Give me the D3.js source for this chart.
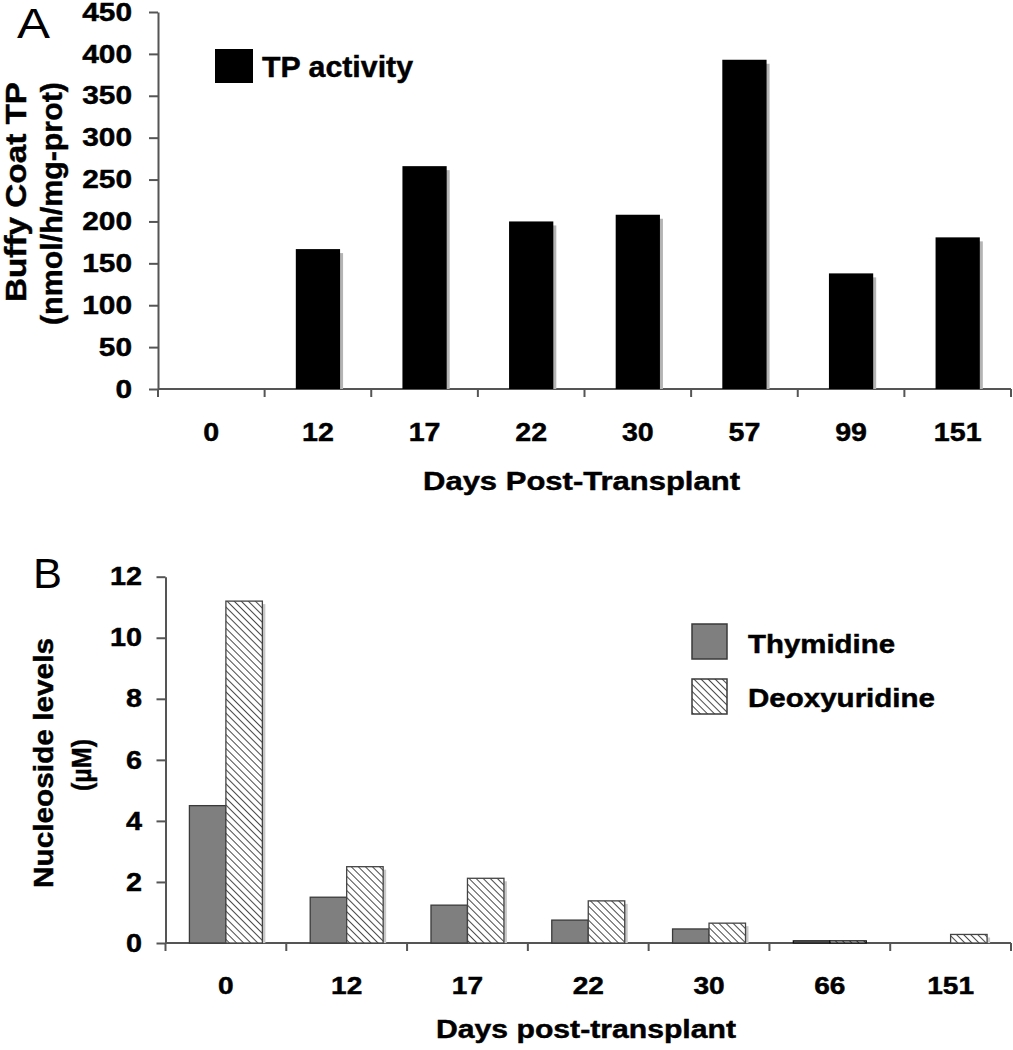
<!DOCTYPE html>
<html><head><meta charset="utf-8">
<script src="https://cdn.jsdelivr.net/npm/d3@7"></script>
<style>body{margin:0;background:#fff}svg{display:block}text{font-family:"Liberation Sans",Arial,sans-serif;font-weight:bold;fill:#000;stroke:#000;stroke-width:0.45px}</style>
</head><body>
<svg id="c" width="1013" height="1050"></svg>
<script>
// ---- data ----
const daysA = ["0","12","17","22","30","57","99","151"];
const tpActivity = [0,167,266,200,208,393,138,181];
const ticksA = [0,50,100,150,200,250,300,350,400,450];

const daysB = ["0","12","17","22","30","66","151"];
const seriesB = ["Thymidine","Deoxyuridine"];
const thymidine = [4.5,1.5,1.24,0.75,0.46,0.07,0];
const deoxyuridine = [11.2,2.5,2.12,1.38,0.65,0.07,0.28];
const ticksB = [0,2,4,6,8,10,12];

const svg = d3.select("#c");
const AX = "#555";

const defs = svg.append("defs");
const pat = defs.append("pattern").attr("id","hatch").attr("patternUnits","userSpaceOnUse")
  .attr("width",5).attr("height",5).attr("patternTransform","rotate(-45)");
pat.append("rect").attr("width",5).attr("height",5).attr("fill","#fff");
pat.append("line").attr("x1",0).attr("y1",0).attr("x2",0).attr("y2",5).attr("stroke","#2a2a2a").attr("stroke-width",1.7);

function styleAxis(g){
  g.select(".domain").attr("stroke",AX).attr("stroke-width",2);
  g.selectAll(".tick line").attr("stroke",AX).attr("stroke-width",2);
}
function fitText(sel,len){ sel.attr("textLength",len).attr("lengthAdjust","spacingAndGlyphs"); }

// ================= Panel A =================
const xA = d3.scaleBand().domain(daysA).range([158,1011]).paddingInner(0.585).paddingOuter(0.2925);
const yA = d3.scaleLinear().domain([0,450]).range([389,12]);

const SYA = 1.17;
const gyA = svg.append("g").attr("transform","translate(158,0)")
  .call(d3.axisLeft(yA).tickValues(ticksA).tickSize(9).tickSizeOuter(0));
gyA.selectAll("text").attr("font-size",25.5).attr("font-family",null)
  .attr("x",-26/SYA).attr("transform",`scale(${SYA},1)`);
styleAxis(gyA);

const SXA = 1.1;
const gxA = svg.append("g").attr("transform","translate(0,389)")
  .call(d3.axisBottom(xA).tickSize(0).tickSizeOuter(0));
gxA.selectAll("text").attr("font-size",26).attr("font-family",null)
  .attr("y",52).attr("dy",null).attr("x",0).attr("transform",`scale(${SXA},1)`);
gxA.selectAll(".tick").each(function(d){
  d3.select(this).attr("transform",`translate(${xA(d)+xA.bandwidth()/2},0)`);
});
styleAxis(gxA);
gxA.select(".domain").attr("d","M158,0H1011");
gxA.selectAll(".bt").data(d3.range(daysA.length+1)).join("line").attr("class","bt")
  .attr("x1",i=>xA.range()[0]+i*xA.step()).attr("x2",i=>xA.range()[0]+i*xA.step())
  .attr("y1",0).attr("y2",8).attr("stroke",AX).attr("stroke-width",2);

const barsA = daysA.map((d,i)=>({d,v:tpActivity[i]})).filter(o=>o.v>0);
svg.append("g").selectAll("rect").data(barsA).join("rect")
  .attr("x",o=>xA(o.d)+3).attr("y",o=>yA(o.v)+4).attr("width",xA.bandwidth())
  .attr("height",o=>yA(0)-yA(o.v)-4).attr("fill","#b4b4b4");
svg.append("g").selectAll("rect").data(barsA).join("rect")
  .attr("x",o=>xA(o.d)).attr("y",o=>yA(o.v)).attr("width",xA.bandwidth())
  .attr("height",o=>yA(0)-yA(o.v)).attr("fill","#000");

// legend A
svg.append("rect").attr("x",215).attr("y",49).attr("width",38).attr("height",34).attr("fill","#000");
svg.append("text").attr("x",262).attr("y",77).attr("font-size",30).text("TP activity").call(fitText,151);

svg.append("text").attr("x",17).attr("y",38).attr("font-size",43).style("font-weight","normal").style("stroke-width",0).text("A").call(fitText,33);

svg.append("text").attr("transform","translate(26,192) rotate(-90)").attr("text-anchor","middle")
  .attr("font-size",30).text("Buffy Coat TP").call(fitText,220);
svg.append("text").attr("transform","translate(62,203.5) rotate(-90)").attr("text-anchor","middle")
  .attr("font-size",30).text("(nmol/h/mg-prot)").call(fitText,243);

svg.append("text").attr("x",581.5).attr("y",490).attr("text-anchor","middle")
  .attr("font-size",25.5).text("Days Post-Transplant").call(fitText,317);

// ================= Panel B =================
const xB = d3.scaleBand().domain(daysB).range([165.5,1011]).paddingInner(0.396).paddingOuter(0.198);
const xBi = d3.scaleBand().domain(seriesB).range([0,xB.bandwidth()]);
const yB = d3.scaleLinear().domain([0,12]).range([943,576.7]);

const SYB = 1.13;
const gyB = svg.append("g").attr("transform","translate(165.5,0)")
  .call(d3.axisLeft(yB).tickValues(ticksB).tickSize(9).tickSizeOuter(0));
gyB.selectAll("text").attr("font-size",25.5).attr("font-family",null)
  .attr("x",-23.5/SYB).attr("transform",`scale(${SYB},1)`);
styleAxis(gyB);

const SXB = 1.17;
const gxB = svg.append("g").attr("transform","translate(0,943)")
  .call(d3.axisBottom(xB).tickSize(0).tickSizeOuter(0));
gxB.selectAll("text").attr("font-size",24).attr("font-family",null)
  .attr("y",51).attr("dy",null).attr("x",0).attr("transform",`scale(${SXB},1)`);
gxB.selectAll(".tick").each(function(d){
  d3.select(this).attr("transform",`translate(${xB(d)+xB.bandwidth()/2},0)`);
});
styleAxis(gxB);
gxB.select(".domain").attr("d","M165.5,0H1011");
gxB.selectAll(".bt").data(d3.range(daysB.length+1)).join("line").attr("class","bt")
  .attr("x1",i=>xB.range()[0]+i*xB.step()).attr("x2",i=>xB.range()[0]+i*xB.step())
  .attr("y1",0).attr("y2",8).attr("stroke",AX).attr("stroke-width",2);

const barsB = [];
daysB.forEach((d,i)=>{
  barsB.push({d,s:"Thymidine",v:thymidine[i]});
  barsB.push({d,s:"Deoxyuridine",v:deoxyuridine[i]});
});
const bb = barsB.filter(o=>o.v>0);
const gB = svg.append("g");
gB.selectAll("rect.sh").data(bb).join("rect").attr("class","sh")
  .attr("x",o=>xB(o.d)+xBi(o.s)+3).attr("y",o=>Math.min(yB(o.v)+3,yB(0)))
  .attr("width",xBi.bandwidth()).attr("height",o=>Math.max(0,yB(0)-yB(o.v)-3)).attr("fill","#c8c8c8");
gB.selectAll("rect.b").data(bb).join("rect").attr("class","b")
  .attr("x",o=>xB(o.d)+xBi(o.s)).attr("y",o=>yB(o.v))
  .attr("width",xBi.bandwidth()).attr("height",o=>yB(0)-yB(o.v))
  .attr("fill",o=>o.s==="Thymidine"?"#7f7f7f":"url(#hatch)")
  .attr("stroke",o=>o.v<0.1?"#111":(o.s==="Thymidine"?"#3a3a3a":"#444")).attr("stroke-width",1.3);

// legend B
const legB = [{s:"Thymidine",y:624,ty:653,len:147},{s:"Deoxyuridine",y:679,ty:707,len:187}];
legB.forEach(l=>{
  svg.append("rect").attr("x",692).attr("y",l.y).attr("width",35).attr("height",35)
    .attr("fill",l.s==="Thymidine"?"#7f7f7f":"url(#hatch)").attr("stroke","#3a3a3a").attr("stroke-width",1.5);
  svg.append("text").attr("x",748).attr("y",l.ty).attr("font-size",25).text(l.s).call(fitText,l.len);
});

svg.append("text").attr("x",33).attr("y",588).attr("font-size",43).style("font-weight","normal").style("stroke-width",0).text("B").call(fitText,29);

svg.append("text").attr("transform","translate(53,763) rotate(-90)").attr("text-anchor","middle")
  .attr("font-size",28).text("Nucleoside levels").call(fitText,250);
svg.append("text").attr("transform","translate(91,765) rotate(-90)").attr("text-anchor","middle")
  .attr("font-size",28).text("(µM)").call(fitText,52);

svg.append("text").attr("x",586).attr("y",1038).attr("text-anchor","middle")
  .attr("font-size",26).text("Days post-transplant").call(fitText,300);
</script>
</body></html>
